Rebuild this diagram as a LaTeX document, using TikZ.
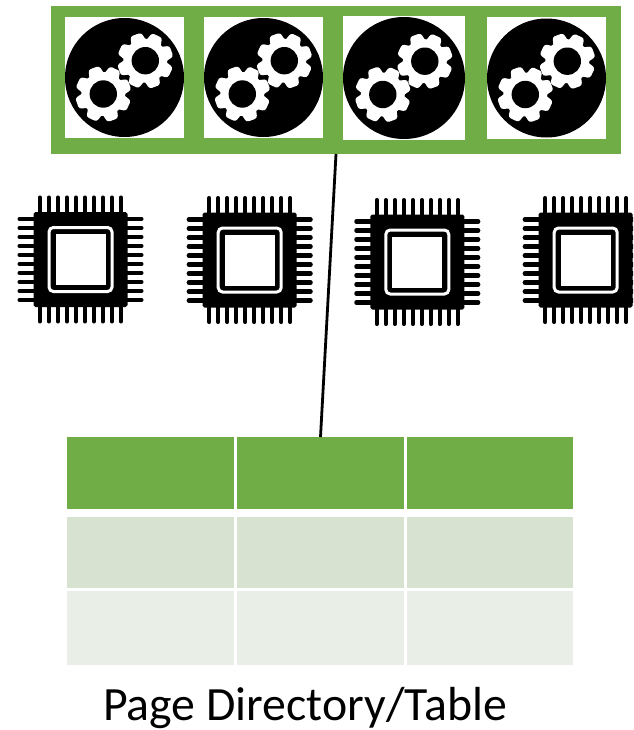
\documentclass[tikz,border=0pt]{standalone}
\usepackage{fontspec}
\setmainfont{Carlito}
\usepackage{tikz}
\usetikzlibrary{calc}
\definecolor{FrmLine}{RGB}{112,173,71}
\definecolor{RowHdr} {RGB}{112,173,71}
\definecolor{RowOdd} {RGB}{215,227,208}
\definecolor{RowEven}{RGB}{233,239,231}
\tikzset{
  nd_frame/.style={
    rectangle, draw=FrmLine, fill=FrmLine, line width=0.28cm, inner sep=0pt,
    minimum width=11.12cm, minimum height=2.68cm},
  nd_box/.style={
    rectangle, fill=white, inner sep=0pt, outer sep=0pt},
  nd_cell/.style={
    rectangle, inner sep=0pt, outer sep=0pt,
    minimum width=3.34cm},
  nd_lbl/.style={font=\fontsize{27.2}{32}\selectfont, inner sep=0pt, anchor=base},
  arr/.style={line width=0.056cm,black},
  pin/.style={line width=0.082cm,black,line cap=round},
}
\newcommand{\onegear}[2]{%
  \begin{scope}[shift={(#1,#2)}]
    \fill[white] (0,0) circle (22);
    \foreach \a in {25,70,...,340}
      {\fill[white,rounded corners=1.4pt,rotate=-\a]
        (18,-8) -- (27.8,-5.6) -- (27.8,5.6) -- (18,8) -- cycle;}
    \fill[black] (0,0) circle (13.7);
  \end{scope}%
}
\newcommand{\gearicon}[3]{%
  \fill[black] (#1,#2) circle (#3);
  \onegear{#1+20.8}{#2-16.8}
  \onegear{#1-21.2}{#2+16.5}
}
\newcommand{\chipicon}[2]{%
  \begin{scope}[shift={(#1,#2)}]
    \foreach \p in {-40.5,-31.5,...,41}
      {\draw[pin] (\p,-62) -- (\p,62);
       \draw[pin] (-61,\p) -- (61,\p);}
    \fill[black,rounded corners=1pt] (-47,-47.5) rectangle (47,47.5);
    \draw[white,line width=0.06cm,rounded corners=2.5pt] (-31.5,-32) rectangle (31.5,32);
    \fill[white] (-25,-25.5) rectangle (25,25.5);
  \end{scope}%
}

\begin{document}
\begin{tikzpicture}[x=0.02cm,y=-0.02cm]

\path[use as bounding box,clip] (0,0) rectangle (633,730);

%% Frame
\node[nd_frame] at (336,80) (Frame){};
\node[nd_box,minimum width=2.38cm,minimum height=2.42cm] at (124.5,77.5) (BoxA){};
\node[nd_box,minimum width=2.38cm,minimum height=2.42cm] at (263.5,77.5) (BoxB){};
\node[nd_box,minimum width=2.44cm,minimum height=2.48cm] at (404,78) (BoxC){};
\node[nd_box,minimum width=2.38cm,minimum height=2.44cm] at (546.5,78) (BoxD){};
\gearicon{124.5}{77.5}{59.5}
\gearicon{263.5}{77.5}{59.5}
\gearicon{404}{78}{61}
\gearicon{546.5}{78}{59.5}

%% Chips
\foreach \x/\y in {80.5/259.5,249.7/260,417.3/262,585.7/260}
  {\chipicon{\x}{\y}}

%% Table
\foreach \x/\c in {150.5/A,320.5/B,490/C}
  {\node[nd_cell,fill=RowHdr,minimum height=1.44cm] at (\x,473) (Cell\c1){};
   \node[nd_cell,fill=RowOdd,minimum height=1.42cm] at (\x,552.5) (Cell\c2){};
   \node[nd_cell,fill=RowEven,minimum height=1.48cm] at (\x,628) (Cell\c3){};}

\node[nd_lbl] at (305,720) (Lbl){Page Directory/Table};

\draw[arr] (Frame.south)--(CellB1.north);

\end{tikzpicture}
\end{document}
